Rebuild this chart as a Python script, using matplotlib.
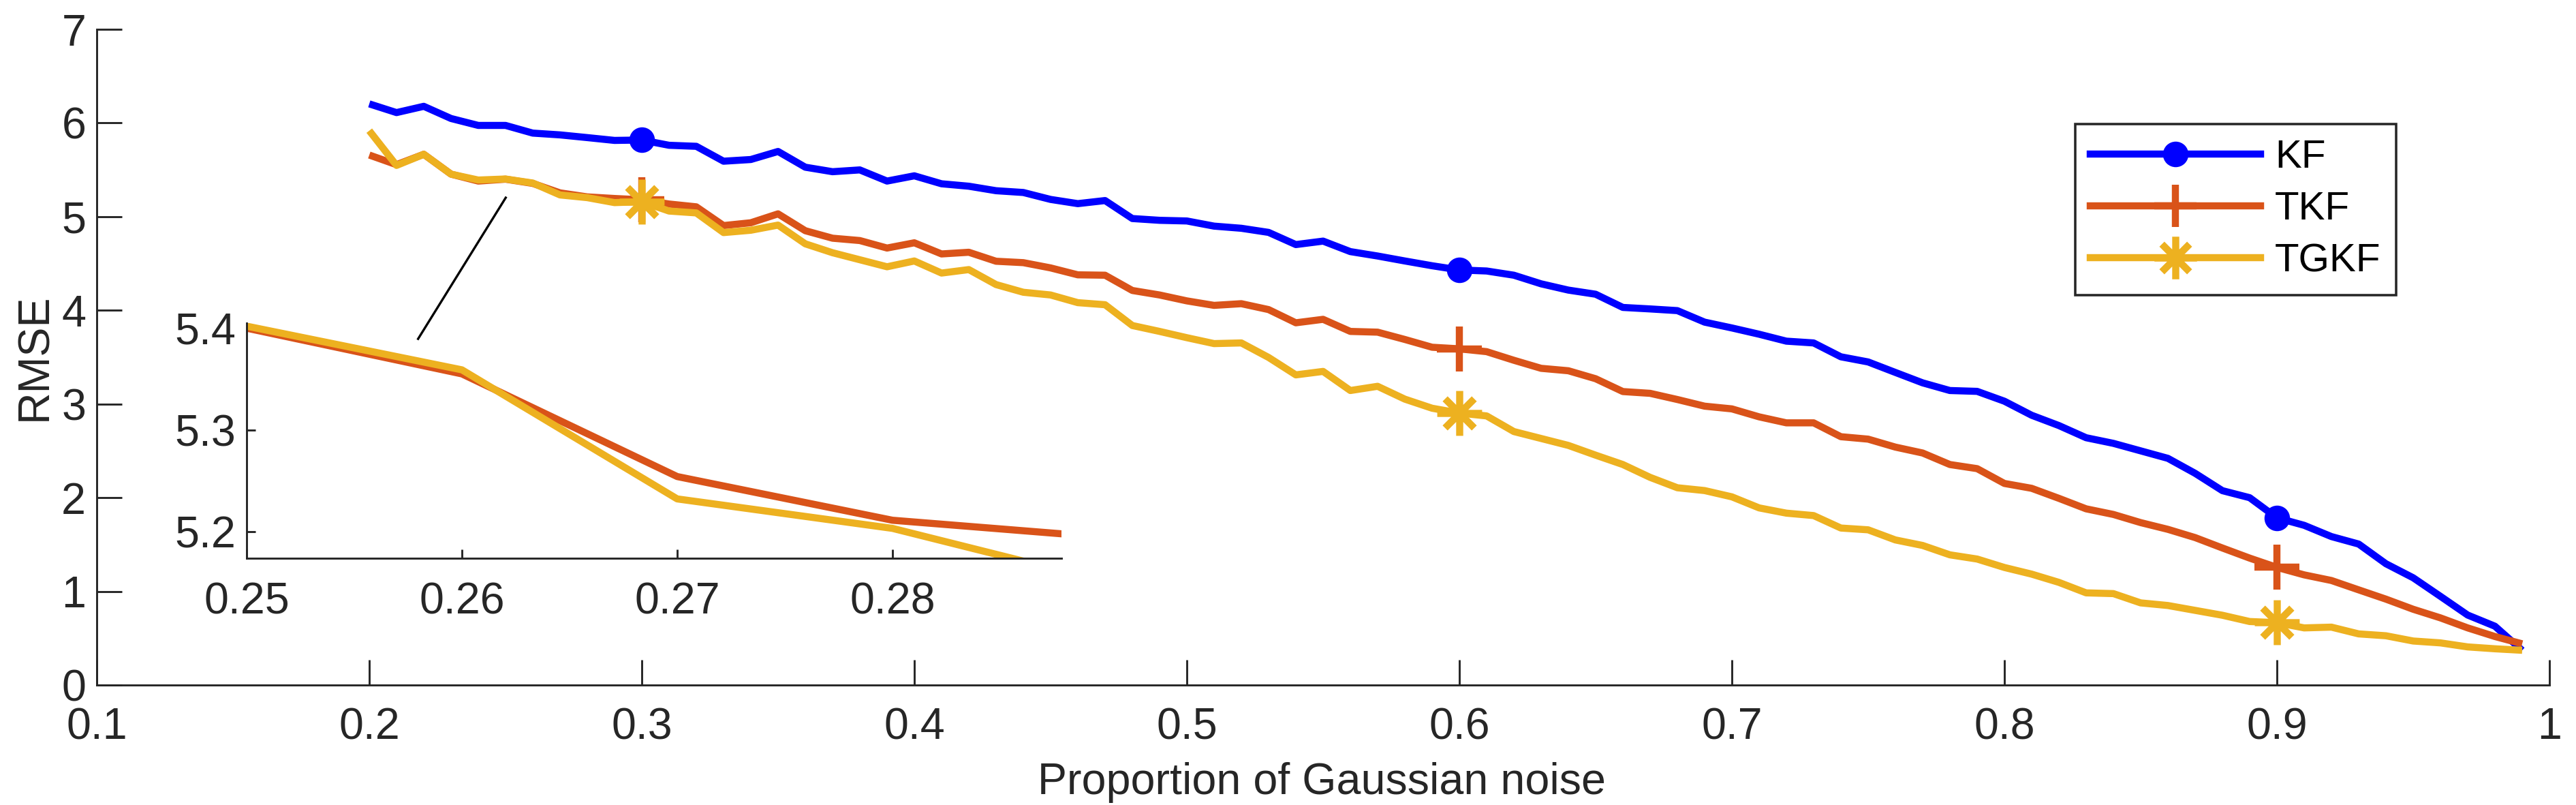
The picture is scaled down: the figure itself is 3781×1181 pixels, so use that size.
import matplotlib
matplotlib.use('Agg')
import matplotlib.pyplot as plt
from matplotlib.path import Path
from matplotlib.lines import Line2D

plt.rcParams['font.family'] = ['Liberation Sans', 'DejaVu Sans']

# ---------------- data ----------------
noise_proportion = [
    0.20, 0.21, 0.22, 0.23, 0.24, 0.25, 0.26, 0.27, 0.28, 0.29,
    0.30, 0.31, 0.32, 0.33, 0.34, 0.35, 0.36, 0.37, 0.38, 0.39,
    0.40, 0.41, 0.42, 0.43, 0.44, 0.45, 0.46, 0.47, 0.48, 0.49,
    0.50, 0.51, 0.52, 0.53, 0.54, 0.55, 0.56, 0.57, 0.58, 0.59,
    0.60, 0.61, 0.62, 0.63, 0.64, 0.65, 0.66, 0.67, 0.68, 0.69,
    0.70, 0.71, 0.72, 0.73, 0.74, 0.75, 0.76, 0.77, 0.78, 0.79,
    0.80, 0.81, 0.82, 0.83, 0.84, 0.85, 0.86, 0.87, 0.88, 0.89,
    0.90, 0.91, 0.92, 0.93, 0.94, 0.95, 0.96, 0.97, 0.98, 0.99,
]

rmse_kf = [
    6.204, 6.111, 6.178, 6.048, 5.974, 5.974, 5.892, 5.873, 5.844, 5.814,
    5.818, 5.762, 5.751, 5.592, 5.610, 5.696, 5.528, 5.480, 5.499, 5.380,
    5.436, 5.351, 5.325, 5.277, 5.258, 5.184, 5.139, 5.172, 4.980, 4.961,
    4.954, 4.899, 4.876, 4.832, 4.702, 4.739, 4.627, 4.580, 4.527, 4.476,
    4.431, 4.420, 4.375, 4.283, 4.216, 4.172, 4.031, 4.015, 3.997, 3.874,
    3.812, 3.745, 3.671, 3.652, 3.504, 3.449, 3.337, 3.226, 3.144, 3.135,
    3.030, 2.880, 2.770, 2.640, 2.580, 2.500, 2.420, 2.260, 2.075, 2.000,
    1.785, 1.705, 1.585, 1.505, 1.295, 1.145, 0.947, 0.747, 0.628, 0.370,
]

rmse_tkf = [
    5.658, 5.555, 5.666, 5.454, 5.380, 5.400, 5.355, 5.254, 5.211, 5.194,
    5.180, 5.135, 5.105, 4.905, 4.935, 5.030, 4.850, 4.770, 4.745, 4.665,
    4.721, 4.602, 4.620, 4.524, 4.509, 4.453, 4.379, 4.375, 4.212, 4.164,
    4.101, 4.053, 4.071, 4.008, 3.867, 3.904, 3.775, 3.767, 3.689, 3.606,
    3.589, 3.559, 3.467, 3.381, 3.355, 3.270, 3.133, 3.114, 3.048, 2.977,
    2.948, 2.863, 2.799, 2.799, 2.651, 2.625, 2.540, 2.477, 2.354, 2.310,
    2.152, 2.100, 1.993, 1.881, 1.821, 1.734, 1.662, 1.574, 1.463, 1.355,
    1.256, 1.176, 1.116, 1.016, 0.917, 0.809, 0.717, 0.610, 0.518, 0.440,
]

rmse_tgkf = [
    5.918, 5.547, 5.666, 5.454, 5.391, 5.402, 5.359, 5.232, 5.203, 5.150,
    5.160, 5.060, 5.040, 4.830, 4.855, 4.910, 4.710, 4.615, 4.540, 4.465,
    4.527, 4.398, 4.435, 4.275, 4.193, 4.164, 4.082, 4.060, 3.838, 3.775,
    3.708, 3.645, 3.652, 3.497, 3.311, 3.348, 3.144, 3.189, 3.052, 2.955,
    2.903, 2.873, 2.706, 2.632, 2.558, 2.454, 2.354, 2.217, 2.106, 2.076,
    2.009, 1.891, 1.835, 1.809, 1.676, 1.657, 1.549, 1.490, 1.390, 1.345,
    1.255, 1.184, 1.096, 0.984, 0.976, 0.877, 0.849, 0.797, 0.745, 0.678,
    0.666, 0.610, 0.618, 0.546, 0.526, 0.470, 0.450, 0.407, 0.387, 0.371,
]

series_names = ['KF', 'TKF', 'TGKF']
marker_indices = [10, 40, 70]

x_ticks = [0.1, 0.2, 0.3, 0.4, 0.5, 0.6, 0.7, 0.8, 0.9, 1.0]
x_tick_labels = ['0.1', '0.2', '0.3', '0.4', '0.5', '0.6', '0.7', '0.8', '0.9', '1']
y_ticks = [0, 1, 2, 3, 4, 5, 6, 7]
y_tick_labels = ['0', '1', '2', '3', '4', '5', '6', '7']

inset_x_ticks = [0.25, 0.26, 0.27, 0.28]
inset_x_tick_labels = ['0.25', '0.26', '0.27', '0.28']
inset_y_ticks = [5.2, 5.3, 5.4]
inset_y_tick_labels = ['5.2', '5.3', '5.4']

connector_x = [0.2177, 0.2503]
connector_y = [3.685, 5.213]

# ---------------- style ----------------
C_KF = '#0000FF'
C_TKF = '#D95319'
C_TGKF = '#EDB120'
AX_C = '#262626'
LW = 2.5
FS = 15.5

d = 0.65
asterisk = Path(
    [(0, -1), (0, 1), (-1, 0), (1, 0), (-d, -d), (d, d), (-d, d), (d, -d)],
    [Path.MOVETO, Path.LINETO] * 4,
)

fig = plt.figure(figsize=(3781 / 300, 1181 / 300), dpi=300)
ax = fig.add_axes([142 / 3781, 1 - 1005 / 1181, 3600 / 3781, 962 / 1181])

ax.plot(noise_proportion, rmse_kf, color=C_KF, lw=LW, solid_capstyle='butt',
        marker='o', ms=9, mew=0, markevery=marker_indices)
ax.plot(noise_proportion, rmse_tkf, color=C_TKF, lw=LW, solid_capstyle='butt',
        marker='+', ms=15.8, mew=2.5, markevery=marker_indices)
ax.plot(noise_proportion, rmse_tgkf, color=C_TGKF, lw=LW, solid_capstyle='butt',
        marker=asterisk, ms=15.8, mew=2.5, markevery=marker_indices)

ax.plot(connector_x, connector_y, color='black', lw=0.8, solid_capstyle='butt')

ax.set_xlim(0.1, 1.0)
ax.set_ylim(0, 7)
ax.set_xticks(x_ticks)
ax.set_xticklabels(x_tick_labels)
ax.set_yticks(y_ticks)
ax.set_yticklabels(y_tick_labels)
for s in ['top', 'right']:
    ax.spines[s].set_visible(False)
for s in ['left', 'bottom']:
    ax.spines[s].set_color(AX_C)
    ax.spines[s].set_linewidth(0.7)
ax.tick_params(direction='in', length=8.9, width=0.7, color=AX_C,
               labelsize=FS, labelcolor=AX_C)
ax.tick_params(axis='x', pad=7.7)
ax.tick_params(axis='y', pad=3.8)

ax.set_xlabel('Proportion of Gaussian noise', fontsize=FS, color=AX_C)
ax.xaxis.set_label_coords(1939.5 / 3781, 1 - 1165 / 1181, transform=fig.transFigure)
ax.xaxis.label.set_va('baseline')
ax.set_ylabel('RMSE', fontsize=FS, color=AX_C)
ax.yaxis.set_label_coords(68 / 3781, 1 - 524 / 1181, transform=fig.transFigure)
ax.yaxis.label.set_va('baseline')

handles = [
    Line2D([], [], color=C_KF, lw=LW, marker='o', ms=9, mew=0),
    Line2D([], [], color=C_TKF, lw=LW, marker='+', ms=15, mew=2.5),
    Line2D([], [], color=C_TGKF, lw=LW, marker=asterisk, ms=15, mew=2.5),
]
leg = ax.legend(handles, series_names, loc='upper left',
                bbox_to_anchor=(3046 / 3781, 1 - 182 / 1181),
                bbox_transform=fig.transFigure, fontsize=14, frameon=True,
                fancybox=False, edgecolor=AX_C, framealpha=1, borderpad=0.38,
                labelspacing=0.38, handlelength=4.29, handletextpad=0.35,
                borderaxespad=0)
leg.get_frame().set_linewidth(0.85)
for t in leg.get_texts():
    t.set_color('black')

# ---------------- inset ----------------
axin = fig.add_axes([362 / 3781, 1 - 819 / 1181, 1196 / 3781, 345 / 1181])
axin.set_facecolor('none')
axin.plot(noise_proportion, rmse_tkf, color=C_TKF, lw=LW, solid_capstyle='butt')
axin.plot(noise_proportion, rmse_tgkf, color=C_TGKF, lw=LW, solid_capstyle='butt')
axin.set_xlim(0.25, 0.28785)
axin.set_ylim(5.1736, 5.405)
axin.set_xticks(inset_x_ticks)
axin.set_xticklabels(inset_x_tick_labels)
axin.set_yticks(inset_y_ticks)
axin.set_yticklabels(inset_y_tick_labels)
for s in ['top', 'right']:
    axin.spines[s].set_visible(False)
for s in ['left', 'bottom']:
    axin.spines[s].set_color(AX_C)
    axin.spines[s].set_linewidth(0.7)
axin.tick_params(direction='in', length=3.1, width=0.7, color=AX_C,
                 labelsize=FS, labelcolor=AX_C)
axin.tick_params(axis='x', pad=8.2)
axin.tick_params(axis='y', pad=3.7)

fig.savefig('out.png', dpi=300, facecolor='white')
